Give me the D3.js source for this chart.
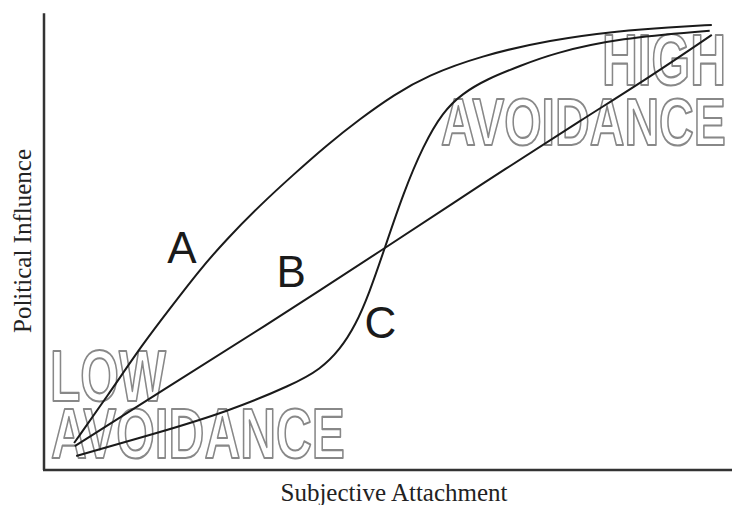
<!DOCTYPE html>
<html>
<head>
<meta charset="utf-8">
<script src="https://cdn.jsdelivr.net/npm/d3@7"></script>
<style>
  body { margin: 0; background: #fff; }
  svg { display: block; }
</style>
</head>
<body>
<svg id="chart"></svg>
<script>
// curve data, in arbitrary units (0..100 on both axes)
var curveA = [[4.3, 6.0], [9.4, 17.2], [14.1, 28.0], [18, 35.9], [22.3, 44.6], [26.1, 51.3],
    [30.9, 58.9], [35.6, 65.6], [40.4, 72.2], [45.1, 78.0], [50.1, 83.5], [54.7, 87.6],
    [62.3, 92.0], [72.3, 95.6], [82.3, 97.6], [89.4, 98.4], [95.4, 98.9]];
var curveB = [[4.4, 5.3], [16.6, 17.4], [30.9, 31.3], [49, 49.6], [62.3, 63.3],
    [77.6, 78.6], [86.6, 87.4], [95.4, 96.7]];
var curveC = [[4.6, 3.1], [16.6, 8.4], [26.1, 12.9], [35.6, 19.0], [39.5, 22.4], [42.3, 26.8],
    [44.5, 32.2], [46.4, 39.0], [48.7, 49.4], [51.3, 61.4], [54.2, 72.2], [57.0, 79.6],
    [59.7, 83.6], [63.3, 86.9], [68, 89.8], [72.7, 92.6], [82.3, 96], [95.1, 97.6]];
var curveNames = ["A", "B", "C"];
var namePos = [[17.6, 46], [33.2, 40.7], [45.8, 29.3]];
var xTitle = "Subjective Attachment",
    yTitle = "Political Influence";

var width = 732, height = 505;

var svg = d3.select("#chart")
    .attr("width", width)
    .attr("height", height);

// scales
var x = d3.scaleLinear().domain([0, 100]).range([44, 744]);
var y = d3.scaleLinear().domain([0, 100]).range([470, 20]);

// outlined region labels (drawn first, curves go over them)
var outline = svg.append("g")
    .attr("font-family", "'Liberation Sans', Arial, sans-serif")
    .attr("font-weight", "bold")
    .attr("fill", "#fff")
    .attr("stroke", "#888")
    .attr("stroke-linejoin", "round");

var words = [
    {t: "LOW", x: 50, y: 401, len: 116, fs: 72},
    {t: "AVOIDANCE", x: 51, y: 458, len: 294, fs: 70},
    {t: "HIGH", x: 602, y: 85, len: 124, fs: 72},
    {t: "AVOIDANCE", x: 441, y: 145, len: 285, fs: 67}
];
// squeeze each word horizontally to the width seen in the picture
outline.selectAll("text")
    .data(words)
    .enter().append("text")
    .attr("font-size", function (d) { return d.fs; })
    .text(function (d) { return d.t; })
    .each(function (d) {
        var sx = d.len / this.getComputedTextLength();
        d3.select(this)
            .attr("transform", "translate(" + d.x + "," + d.y + ") scale(" + sx + ",1)")
            .attr("stroke-width", 1.8 / Math.sqrt(sx));
    });

// axes: plain L shape, no ticks
svg.append("line")
    .attr("x1", x(0)).attr("y1", y(0))
    .attr("x2", x(0)).attr("y2", y(101.5))
    .attr("stroke", "#333").attr("stroke-width", 2.5);
svg.append("line")
    .attr("x1", x(0) - 1).attr("y1", y(0))
    .attr("x2", x(100)).attr("y2", y(0))
    .attr("stroke", "#333").attr("stroke-width", 2.5);

// the three curves
var line = d3.line()
    .x(function (d) { return x(d[0]); })
    .y(function (d) { return y(d[1]); })
    .curve(d3.curveBasis);

svg.selectAll(".curve")
    .data([curveA, curveB, curveC])
    .enter().append("path")
    .attr("class", "curve")
    .attr("d", line)
    .attr("fill", "none")
    .attr("stroke", "#1a1a1a")
    .attr("stroke-width", 2);

// A, B, C labels
svg.selectAll(".name")
    .data(curveNames)
    .enter().append("text")
    .attr("class", "name")
    .attr("x", function (d, i) { return x(namePos[i][0]); })
    .attr("y", function (d, i) { return y(namePos[i][1]); })
    .attr("font-family", "'Liberation Sans', Arial, sans-serif")
    .attr("font-size", 44)
    .attr("fill", "#1a1a1a")
    .text(function (d) { return d; });

// axis titles
svg.append("text")
    .attr("x", 394)
    .attr("y", 501)
    .attr("text-anchor", "middle")
    .attr("font-family", "'Liberation Serif', 'Times New Roman', serif")
    .attr("font-size", 25)
    .attr("fill", "#222")
    .text(xTitle);

svg.append("text")
    .attr("transform", "translate(31,241) rotate(-90)")
    .attr("text-anchor", "middle")
    .attr("font-family", "'Liberation Serif', 'Times New Roman', serif")
    .attr("font-size", 25)
    .attr("fill", "#222")
    .text(yTitle);
</script>
</body>
</html>
